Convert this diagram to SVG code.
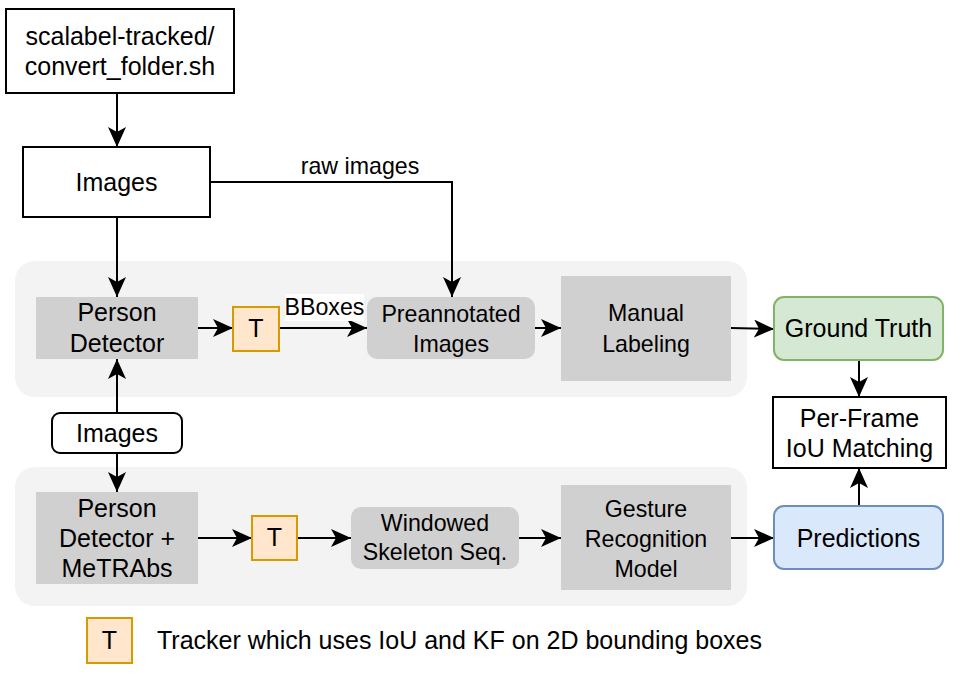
<svg xmlns="http://www.w3.org/2000/svg" width="972" height="675" viewBox="0 0 972 675">
<defs>
<style>
text{font-family:"Liberation Sans",Arial,sans-serif;fill:#000;text-anchor:middle}
.n{font-size:25px}
.s{font-size:23.2px}
.l{font-size:23.2px}
.wb{fill:#fff;stroke:#000;stroke-width:2}
.g{fill:#d0d0d0}
.panel{fill:#f3f3f3}
.t{fill:#ffe6cc;stroke:#d79b00;stroke-width:2}
.e{fill:none;stroke:#000;stroke-width:2;marker-end:url(#a)}
</style>
<marker id="a" markerUnits="userSpaceOnUse" viewBox="0 0 20 18" refX="20" refY="9" markerWidth="20" markerHeight="18" orient="auto">
<path d="M0,0 L20,9 L0,18 L5,9 Z" fill="#000"/>
</marker>
</defs>
<rect class="panel" x="15" y="261" width="732" height="136" rx="20"/>
<rect class="panel" x="15" y="467" width="732" height="139" rx="20"/>
<g id="connectors">
<path class="e" d="M117,93 V147"/>
<path class="e" d="M210,182 H452 V297"/>
<rect x="300" y="152" width="120" height="27" fill="#fff"/>
<text class="l" x="360" y="174">raw images</text>
<path class="e" d="M117,217 V297"/>
<path class="e" d="M198,328 H233"/>
<path class="e" d="M279,328 H367"/>
<rect x="285" y="294" width="79" height="27" fill="#fff"/>
<text class="l" x="324.5" y="315">BBoxes</text>
<path class="e" d="M535,328 H561"/>
<path class="e" d="M731,328 L774,329"/>
<path class="e" d="M859,360 V397"/>
<path class="e" d="M117,413 V359"/>
<path class="e" d="M117,453 V492"/>
<path class="e" d="M198,538 H252"/>
<path class="e" d="M297,538 H351"/>
<path class="e" d="M519,538 H561"/>
<path class="e" d="M731,538 H774"/>
<path class="e" d="M859,506 V468"/>
</g>
<g id="script"><rect class="wb" x="6" y="9" width="228" height="84"/>
<text class="n" x="120" y="45">scalabel-tracked/</text><text class="n" x="120" y="75">convert_folder.sh</text></g>
<g id="images"><rect class="wb" x="23" y="147" width="187" height="70"/>
<text class="n" x="116.5" y="191">Images</text></g>
<g id="person-detector"><rect class="g" x="36" y="297" width="162" height="62"/>
<text class="n" x="117" y="321">Person</text><text class="n" x="117" y="352">Detector</text></g>
<g id="t1"><rect class="t" x="233" y="307" width="46" height="44"/>
<text class="n" x="256" y="337">T</text></g>
<g id="preannotated"><rect class="g" x="367" y="297" width="168" height="62" rx="10"/>
<text class="s" x="451" y="322">Preannotated</text><text class="s" x="451" y="352">Images</text></g>
<g id="manual"><rect class="g" x="561" y="276" width="170" height="105"/>
<text class="s" x="646" y="321">Manual</text><text class="s" x="646" y="352">Labeling</text></g>
<g id="ground-truth"><rect x="774" y="297" width="169" height="63" rx="10" fill="#d5e8d4" stroke="#82b366" stroke-width="2"/>
<text class="n" x="858.5" y="337">Ground Truth</text></g>
<g id="iou"><rect class="wb" x="773" y="397" width="173" height="71"/>
<text class="n" x="859.5" y="427">Per-Frame</text><text class="n" x="859.5" y="457">IoU Matching</text></g>
<g id="images2"><rect class="wb" x="52" y="413" width="130" height="40" rx="8"/>
<text class="n" x="117" y="442">Images</text></g>
<g id="person-metrabs"><rect class="g" x="36" y="492" width="162" height="92"/>
<text class="n" x="117" y="517">Person</text><text class="n" x="117" y="547">Detector +</text><text class="n" x="117" y="577">MeTRAbs</text></g>
<g id="t2"><rect class="t" x="252" y="516" width="45" height="44"/>
<text class="n" x="274.5" y="546">T</text></g>
<g id="windowed"><rect class="g" x="351" y="507" width="168" height="62" rx="10"/>
<text class="s" x="435" y="531">Windowed</text><text class="s" x="435" y="560">Skeleton Seq.</text></g>
<g id="gesture"><rect class="g" x="561" y="485" width="170" height="105"/>
<text class="s" x="646" y="517">Gesture</text><text class="s" x="646" y="547">Recognition</text><text class="s" x="646" y="577">Model</text></g>
<g id="predictions"><rect x="774" y="506" width="169" height="63" rx="10" fill="#dae8fc" stroke="#6c8ebf" stroke-width="2"/>
<text class="n" x="858.5" y="547">Predictions</text></g>
<g id="legend"><rect class="t" x="87" y="618" width="45" height="45"/>
<text class="n" x="109.5" y="649">T</text>
<text class="n" x="157" y="649" style="text-anchor:start">Tracker which uses IoU and KF on 2D bounding boxes</text></g>
</svg>
